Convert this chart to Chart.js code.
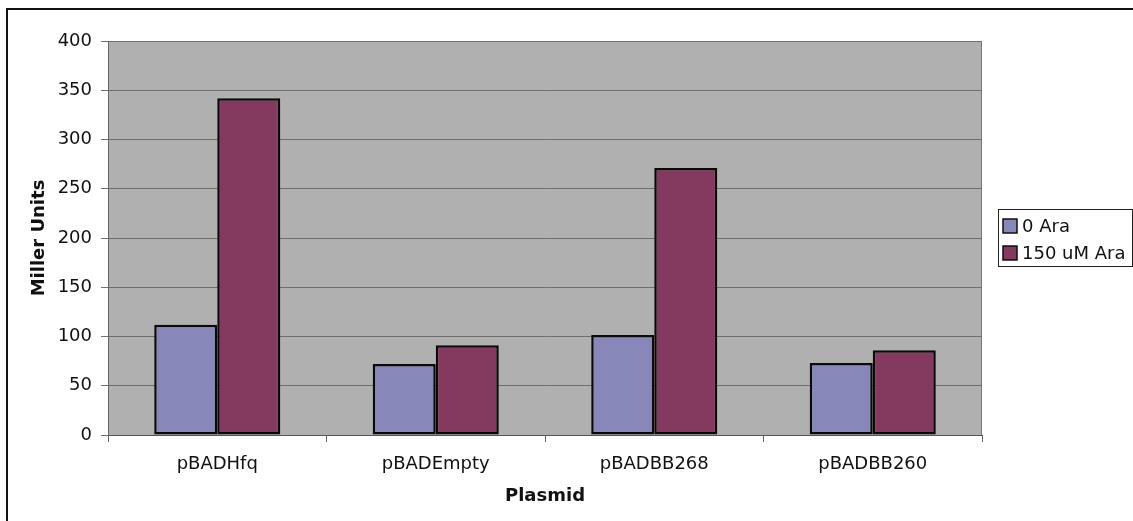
<!DOCTYPE html>
<html>
<head>
<meta charset="utf-8">
<script src="https://cdn.jsdelivr.net/npm/chart.js@4"></script>
<style>
  html, body { margin: 0; padding: 0; background: #fff; }
  #wrap { width: 1133px; height: 521px; }
</style>
</head>
<body>
<div id="wrap"><canvas id="chart" width="1133" height="521"></canvas></div>
<script>
// chart data
const plasmids = ["pBADHfq", "pBADEmpty", "pBADBB268", "pBADBB260"];
const noAra = [112, 72, 101.5, 73];
const ara150 = [342, 91, 271, 86];
const seriesNames = ["0 Ara", "150 uM Ara"];

const FONT = "'DejaVu Sans', Verdana, sans-serif";

// grey plot area, outer frame and boxed legend
const frame = {
  id: "frame",
  beforeDraw(chart) {
    const { ctx, chartArea: a } = chart;
    ctx.save();
    ctx.fillStyle = "#b0b0b0";
    ctx.fillRect(a.left, a.top, a.right - a.left, a.bottom - a.top);
    ctx.restore();
  },
  afterDraw(chart) {
    const { ctx, chartArea: a } = chart;
    ctx.save();
    ctx.strokeStyle = "#777";
    ctx.lineWidth = 1;
    ctx.beginPath();
    ctx.moveTo(a.right - 0.5, a.top);
    ctx.lineTo(a.right - 0.5, a.bottom);
    ctx.stroke();

    // outer border (runs off the right and bottom of the picture)
    ctx.strokeStyle = "#111";
    ctx.lineWidth = 2;
    ctx.strokeRect(7, 9, 1140, 530);

    // legend
    ctx.lineWidth = 1;
    ctx.strokeStyle = "#222";
    ctx.strokeRect(998.5, 209.5, 134, 57);
    ctx.font = "18px " + FONT;
    ctx.textBaseline = "middle";
    ctx.textAlign = "left";
    chart.data.datasets.forEach((ds, i) => {
      const y = 226 + i * 27;
      ctx.fillStyle = ds.backgroundColor;
      ctx.fillRect(1003, y - 7, 14, 14);
      ctx.strokeStyle = "#111";
      ctx.lineWidth = 1.5;
      ctx.strokeRect(1003, y - 7, 14, 14);
      ctx.fillStyle = "#111";
      ctx.fillText(ds.label, 1022, y + 1);
    });
    ctx.restore();
  }
};

new Chart(document.getElementById("chart"), {
  type: "bar",
  data: {
    labels: plasmids,
    datasets: [
      {
        label: seriesNames[0],
        data: noAra,
        backgroundColor: "#8787b9",
        borderColor: "#0a0a0a",
        borderWidth: 2.5,
        borderSkipped: false
      },
      {
        label: seriesNames[1],
        data: ara150,
        backgroundColor: "#833a5e",
        borderColor: "#0a0a0a",
        borderWidth: 2.5,
        borderSkipped: false
      }
    ]
  },
  options: {
    responsive: false,
    animation: false,
    events: [],
    layout: { padding: { left: 10, top: 41, right: 151, bottom: 0 } },
    datasets: { bar: { categoryPercentage: 0.577, barPercentage: 1 } },
    plugins: {
      legend: { display: false },
      tooltip: { enabled: false }
    },
    scales: {
      x: {
        offset: true,
        afterFit: (s) => { s.height = 86; },
        grid: {
          offset: true,
          drawOnChartArea: false,
          drawTicks: true,
          tickLength: 7,
          color: "#666"
        },
        border: { color: "#555", width: 1 },
        ticks: {
          color: "#111",
          padding: 12,
          font: { family: FONT, size: 18 }
        },
        title: {
          display: true,
          text: "Plasmid",
          color: "#111",
          padding: { top: 0, bottom: 14 },
          font: { family: FONT, size: 18, weight: "bold" }
        }
      },
      y: {
        min: 0,
        max: 400,
        afterFit: (s) => { s.width = 98; },
        grid: {
          color: "#6f6f6f",
          lineWidth: 1,
          drawTicks: true,
          tickLength: 7
        },
        border: { color: "#666", width: 1 },
        ticks: {
          stepSize: 50,
          color: "#111",
          padding: 9,
          font: { family: FONT, size: 18 }
        },
        title: {
          display: true,
          text: "Miller Units",
          color: "#111",
          padding: { top: 19, bottom: 0 },
          font: { family: FONT, size: 18, weight: "bold" }
        }
      }
    }
  },
  plugins: [frame]
});
</script>
</body>
</html>
